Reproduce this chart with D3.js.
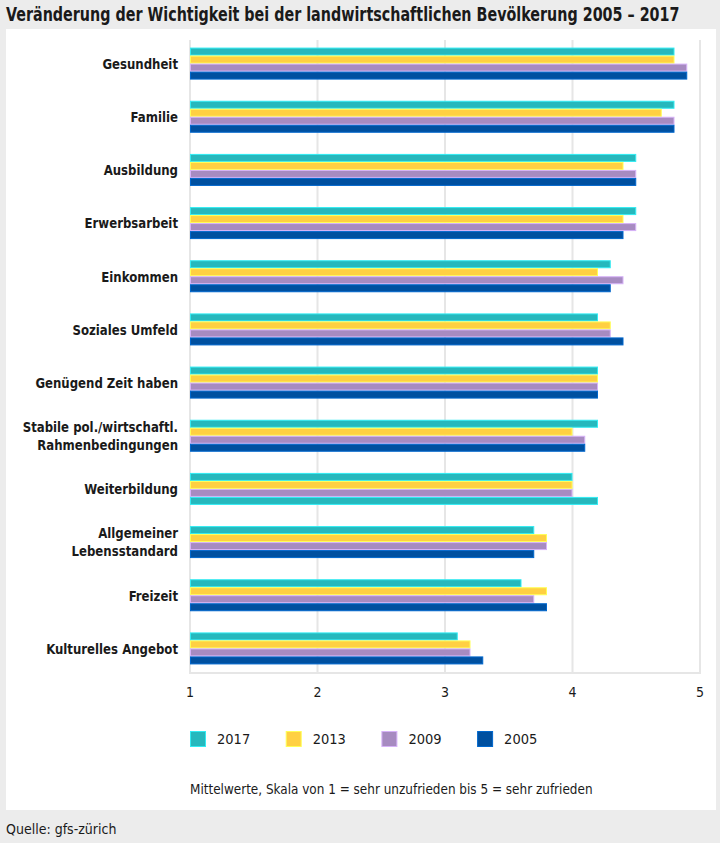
<!DOCTYPE html>
<html>
<head>
<meta charset="utf-8">
<script src="https://cdn.jsdelivr.net/npm/d3@7"></script>
<style>
  body { margin: 0; background: #ececec; }
  svg { display: block; }
  text { font-family: "DejaVu Sans Condensed", "Liberation Sans Narrow", "Roboto", sans-serif; fill: #1a1a1a; }
</style>
</head>
<body>
<div id="chart"></div>
<script>
// categories, top to bottom (\n = line break)
var categories = [
  "Gesundheit", "Familie", "Ausbildung", "Erwerbsarbeit", "Einkommen",
  "Soziales Umfeld", "Genügend Zeit haben",
  "Stabile pol./wirtschaftl.\nRahmenbedingungen", "Weiterbildung",
  "Allgemeiner\nLebensstandard", "Freizeit", "Kulturelles Angebot"
];
var years = ["2017", "2013", "2009", "2005"];

var v2017 = [4.8, 4.8, 4.5, 4.5, 4.3, 4.2, 4.2, 4.2, 4.0, 3.7, 3.6, 3.1];
var v2013 = [4.8, 4.7, 4.4, 4.4, 4.2, 4.3, 4.2, 4.0, 4.0, 3.8, 3.8, 3.2];
var v2009 = [4.9, 4.8, 4.5, 4.5, 4.4, 4.3, 4.2, 4.1, 4.0, 3.8, 3.7, 3.2];
var v2005 = [4.9, 4.8, 4.5, 4.4, 4.3, 4.4, 4.2, 4.1, 4.2, 3.7, 3.8, 3.3];
var series = [v2017, v2013, v2009, v2005];

var xTicks = [1, 2, 3, 4, 5];

var colors = {"2017": "#26b8bd", "2013": "#ffd042", "2009": "#a78bc1", "2005": "#0050a0"};
// in the source graphic the 2005 bar of "Weiterbildung" is drawn in the 2017 colour
var colourOverride = {"Weiterbildung|2005": "2017"};

var width = 720, height = 843;
var squeeze = 0.9; // the original uses a condensed face, narrow the text a bit

var svg = d3.select("#chart").append("svg")
  .attr("width", width)
  .attr("height", height);

svg.append("rect").attr("width", width).attr("height", height).attr("fill", "#ececec");

// squeeze a text horizontally so it spans the given width
function fitWidth(sel, x0, yc, w) {
  var natural = sel.node().getComputedTextLength();
  sel.attr("x", 0).attr("y", 0)
    .attr("transform", "translate(" + x0 + "," + yc + ") scale(" + Math.min(1, w / natural) + ",1)");
}

// title
var title = svg.append("text")
  .attr("dominant-baseline", "central")
  .style("font-size", "19px").style("font-weight", "bold")
  .text("Veränderung der Wichtigkeit bei der landwirtschaftlichen Bevölkerung 2005 – 2017");
fitWidth(title, 6, 14, 674);

// white panel
svg.append("rect")
  .attr("x", 6).attr("y", 29)
  .attr("width", 710).attr("height", 781)
  .attr("fill", "#fff");

var x = d3.scaleLinear().domain([1, 5]).range([190, 700]);

var y0 = d3.scaleBand().domain(categories).range([37, 675])
  .paddingInner(0.398).paddingOuter(0.199);
var y1 = d3.scaleBand().domain(years).range([0, y0.bandwidth()]);

var plotTop = 40, plotBottom = 673;

// grid
var grid = svg.append("g");
grid.selectAll("line.grid")
  .data(xTicks)
  .enter().append("line")
  .attr("x1", function(d) { return x(d); })
  .attr("x2", function(d) { return x(d); })
  .attr("y1", plotTop).attr("y2", plotBottom)
  .attr("stroke", "#e6e6e6").attr("stroke-width", 2);
grid.append("line")
  .attr("x1", x(1) - 1).attr("x2", x(5) + 1)
  .attr("y1", plotBottom).attr("y2", plotBottom)
  .attr("stroke", "#e6e6e6").attr("stroke-width", 2);

// bars
var rows = categories.map(function(c, i) {
  return years.map(function(yr, j) {
    return {cat: c, year: yr, value: series[j][i]};
  });
});

var groups = svg.selectAll("g.grp")
  .data(rows)
  .enter().append("g")
  .attr("class", "grp")
  .attr("transform", function(d, i) { return "translate(0," + y0(categories[i]) + ")"; });

groups.selectAll("rect")
  .data(function(d) { return d; })
  .enter().append("rect")
  .attr("x", x(1) + 0.5)
  .attr("y", function(d) { return y1(d.year) + 0.5; })
  .attr("width", function(d) { return x(d.value) - x(1) - 1; })
  .attr("height", y1.bandwidth() - 1)
  .attr("fill", function(d) {
    var k = colourOverride[d.cat + "|" + d.year] || d.year;
    return colors[k];
  })
  .attr("stroke", function(d) {
    var k = colourOverride[d.cat + "|" + d.year] || d.year;
    return d3.color(colors[k]).brighter(0.7);
  })
  .attr("stroke-width", 1);

// category labels
var labels = svg.selectAll("text.cat")
  .data(categories)
  .enter().append("text")
  .attr("class", "cat")
  .attr("text-anchor", "end")
  .style("font-size", "14.5px").style("font-weight", "bold")
  .attr("transform", function(d) {
    return "translate(178," + (y0(d) + y0.bandwidth() / 2) + ") scale(" + squeeze + ",1)";
  });

labels.each(function(d) {
  var lines = d.split("\n");
  var t = d3.select(this);
  lines.forEach(function(l, i) {
    t.append("tspan")
      .attr("x", 0)
      .attr("y", (i - (lines.length - 1) / 2) * 18)
      .attr("dominant-baseline", "central")
      .text(l);
  });
});

// x tick labels
svg.selectAll("text.tick")
  .data(xTicks)
  .enter().append("text")
  .attr("class", "tick")
  .attr("x", function(d) { return x(d); })
  .attr("y", 692)
  .attr("text-anchor", "middle")
  .attr("dominant-baseline", "central")
  .style("font-size", "14px")
  .text(function(d) { return d; });

// legend
var legend = svg.selectAll("g.leg")
  .data(years)
  .enter().append("g")
  .attr("class", "leg")
  .attr("transform", function(d, i) { return "translate(" + (190 + i * 95.7) + ",731)"; });

legend.append("rect")
  .attr("x", 0.5).attr("y", 0.5)
  .attr("width", 15).attr("height", 15)
  .attr("fill", function(d) { return colors[d]; })
  .attr("stroke", function(d) { return d3.color(colors[d]).brighter(0.7); });

legend.append("text")
  .attr("x", 27).attr("y", 8)
  .attr("dominant-baseline", "central")
  .style("font-size", "14.5px")
  .text(function(d) { return d; });

// note
var note = svg.append("text")
  .attr("dominant-baseline", "central")
  .style("font-size", "14px")
  .text("Mittelwerte, Skala von 1 = sehr unzufrieden bis 5 = sehr zufrieden");
fitWidth(note, 190, 789, 403);

// source
svg.append("text")
  .attr("x", 6).attr("y", 829)
  .attr("dominant-baseline", "central")
  .style("font-size", "14px")
  .text("Quelle: gfs-zürich");
</script>
</body>
</html>
